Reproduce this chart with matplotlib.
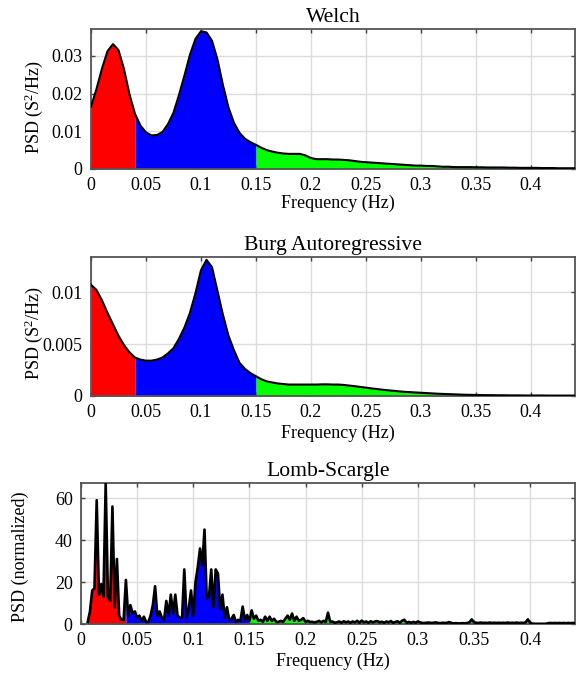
import numpy as np
import matplotlib
matplotlib.use("Agg")
import matplotlib.pyplot as plt
from matplotlib.ticker import FuncFormatter

# ---------- data ----------
# Welch and Burg spectra sampled every 0.005 Hz from 0 to 0.44 Hz
welch_psd = [
    0.0165, 0.0212, 0.0266, 0.0312, 0.0331, 0.0315, 0.0265, 0.0198, 0.0146, 0.0115,   # 0.000-0.045
    0.0097, 0.0089, 0.0090, 0.0098, 0.0119, 0.0149, 0.0196, 0.0248, 0.0303, 0.0345,   # 0.050-0.095
    0.0365, 0.0362, 0.0340, 0.0290, 0.0222, 0.0163, 0.0122, 0.0096, 0.0080, 0.0071,   # 0.100-0.145
    0.0064, 0.0056, 0.0050, 0.0046, 0.0043, 0.0041, 0.0040, 0.0040, 0.0040, 0.0036,   # 0.150-0.195
    0.0029, 0.0026, 0.0026, 0.0026, 0.0025, 0.0025, 0.0024, 0.0023, 0.0021, 0.0019,   # 0.200-0.245
    0.0018, 0.0017, 0.0016, 0.0015, 0.0014, 0.0013, 0.0012, 0.0011, 0.0010, 0.0009,   # 0.250-0.295
    0.0009, 0.0008, 0.0008, 0.0007, 0.0006, 0.0006, 0.0005, 0.0005, 0.0005, 0.0005,   # 0.300-0.345
    0.00045, 0.00045, 0.0004, 0.0004, 0.0004, 0.0004, 0.00035, 0.00035, 0.0003, 0.0003,  # 0.350-0.395
    0.0003, 0.0003, 0.00025, 0.00025, 0.00025, 0.0002, 0.0002, 0.0002, 0.0002,        # 0.400-0.440
]

burg_psd = [
    0.0107, 0.0102, 0.0092, 0.0080, 0.0069, 0.0058, 0.0049, 0.0042, 0.0037, 0.0035,   # 0.000-0.045
    0.0034, 0.0034, 0.0035, 0.0037, 0.0041, 0.0046, 0.0055, 0.0066, 0.0080, 0.0099,   # 0.050-0.095
    0.0121, 0.0131, 0.0124, 0.0101, 0.0078, 0.0058, 0.0044, 0.0032, 0.0026, 0.0022,   # 0.100-0.145
    0.0019, 0.0016, 0.0014, 0.0013, 0.0012, 0.00115, 0.0011, 0.0011, 0.0011, 0.0011,  # 0.150-0.195
    0.0011, 0.0011, 0.00112, 0.00112, 0.0011, 0.0011, 0.00106, 0.0010, 0.00094, 0.00087,  # 0.200-0.245
    0.0008, 0.00073, 0.00067, 0.0006, 0.00055, 0.0005, 0.00045, 0.0004, 0.00037, 0.00034,  # 0.250-0.295
    0.00031, 0.00028, 0.00025, 0.00022, 0.0002, 0.00018, 0.00016, 0.00014, 0.00012, 0.00011,  # 0.300-0.345
    0.0001, 0.00009, 0.00008, 0.00008, 0.00007, 0.00007, 0.00006, 0.00006, 0.00006, 0.00005,  # 0.350-0.395
    0.00005, 0.00005, 0.00005, 0.00004, 0.00004, 0.00004, 0.00004, 0.00004, 0.00004,  # 0.400-0.440
]

# Lomb-Scargle periodogram sampled every 0.002 Hz from 0.006 Hz
ls_psd = [
    1, 6, 16, 17, 59, 14, 19, 13, 67, 13,                   # 0.006-0.024
    11, 56, 8, 31, 4, 2, 2, 21, 4, 9,                       # 0.026-0.044
    5, 6, 3, 4, 1.5, 3.5, 1, 1, 4, 9,                       # 0.046-0.064
    18, 4, 6, 3, 2, 11, 4, 14, 5, 14,                       # 0.066-0.084
    4, 3, 3, 26, 3, 7.5, 16, 4, 20, 27,                     # 0.086-0.104
    36, 28, 45, 12, 13, 26, 8, 26, 24, 7,                   # 0.106-0.124
    14, 3, 8, 2, 2.5, 4.3, 1, 2, 1.5, 8.3,                  # 0.126-0.144
    2, 4.3, 1.5, 6.5, 2.5, 4, 1.5, 2, 1, 3.5,               # 0.146-0.164
    1.5, 3.5, 1.5, 2.5, 1, 1, 1.5, 1, 2.5, 4,               # 0.166-0.184
    2, 5, 1.5, 3.5, 1.5, 2, 2.8, 1, 1.5, 1,                 # 0.186-0.204
    1, 0.8, 1, 1.5, 0.8, 1.5, 1, 5.4, 1, 1.2,               # 0.206-0.224
    0.6, 0.8, 1.2, 0.6, 1.3, 0.8, 1.2, 0.6, 1.2, 0.8,       # 0.226-0.244
    1.5, 0.6, 1.6, 0.8, 1.2, 0.6, 1.3, 0.8, 1.2, 1.4,       # 0.246-0.264
    0.8, 1.1, 0.6, 1.2, 0.8, 1.4, 0.6, 1.0, 1.3, 0.6,       # 0.266-0.284
    1.6, 2.0, 0.6, 1.0, 0.6, 1.0, 0.6, 1.2, 0.8, 0.5,       # 0.286-0.304
    0.5, 0.6, 0.7, 0.5, 0.6, 0.8, 0.5, 0.4, 0.6, 0.5,       # 0.306-0.324
    0.6, 0.9, 0.5, 0.3, 0.4, 0.3, 0.3, 0.4, 0.3, 0.5,       # 0.326-0.344
    0.8, 2.2, 0.8, 0.6, 0.5, 0.7, 0.5, 0.6, 0.5, 0.7,       # 0.346-0.364
    0.5, 0.6, 0.5, 0.6, 0.5, 0.6, 0.5, 0.7, 0.5, 0.6,       # 0.366-0.384
    0.5, 0.7, 0.5, 0.6, 0.5, 0.8, 2.2, 0.6, 0.2, 0.1,       # 0.386-0.404
    0.1, 0.1, 0.1, 0.1, 0.1, 0.4, 0.5, 0.4, 0.5, 0.4,       # 0.406-0.424
    0.5, 0.4, 0.5, 0.4, 0.5, 0.4, 0.5, 0.4,                 # 0.426-0.440
]

welch_f = 0.005 * np.arange(len(welch_psd))
burg_f = 0.005 * np.arange(len(burg_psd))
ls_f = 0.006 + 0.002 * np.arange(len(ls_psd))

band_edges = [(0.0, 0.04), (0.04, 0.15), (0.15, 0.4)]
band_colors = ['#ff0000', '#0000ff', '#00ff00']
x_ticks = [0, 0.05, 0.1, 0.15, 0.2, 0.25, 0.3, 0.35, 0.4]

# ---------- style ----------
plt.rcParams['font.family'] = ['Liberation Serif', 'DejaVu Serif']
plt.rcParams['mathtext.fontset'] = 'custom'
plt.rcParams['mathtext.rm'] = 'Liberation Serif'
plt.rcParams['font.size'] = 13

fmt = FuncFormatter(lambda v, pos: '%g' % v)


def draw_panel(ax, f, p, title, ylabel, ymax, yticks, lw, xlab_y, ylab_x, ylab_y):
    f = np.asarray(f)
    p = np.asarray(p, dtype=float)
    for (lo, hi), col in zip(band_edges, band_colors):
        m = (f >= lo - 1e-9) & (f <= hi + 1e-9)
        ax.fill_between(f[m], 0, p[m], color=col, linewidth=0, zorder=2)
    ax.plot(f, p, color='black', lw=lw, zorder=3)
    ax.set_xlim(0, 0.44)
    ax.set_ylim(0, ymax)
    ax.set_xticks(x_ticks)
    ax.set_yticks(yticks)
    ax.xaxis.set_major_formatter(fmt)
    ax.yaxis.set_major_formatter(fmt)
    ax.grid(True, color='#dcdcdc', lw=1.0, zorder=0)
    ax.set_axisbelow(True)
    ax.tick_params(direction='in', top=True, right=True, length=3,
                   width=1.0, color='#444444', pad=6)
    for s in ax.spines.values():
        s.set_color('#555555')
        s.set_linewidth(1.3)
    ax.set_title(title, pad=5)
    ax.set_xlabel('Frequency (Hz)')
    ax.set_ylabel(ylabel)
    ax.xaxis.set_label_coords(0.51, xlab_y)
    ax.yaxis.set_label_coords(ylab_x, ylab_y)


fig = plt.figure(figsize=(5.81, 6.73), dpi=100)
ax1 = fig.add_axes([0.1566, 0.7489, 0.8330, 0.2080])
ax2 = fig.add_axes([0.1566, 0.4116, 0.8330, 0.2065])
ax3 = fig.add_axes([0.1394, 0.0728, 0.8503, 0.2095])

draw_panel(ax1, welch_f, welch_psd, 'Welch', r'PSD (S$\mathregular{^2}$/Hz)',
           0.0371, [0, 0.01, 0.02, 0.03], 1.5, -0.185, -0.095, 0.44)
draw_panel(ax2, burg_f, burg_psd, 'Burg Autoregressive', r'PSD (S$\mathregular{^2}$/Hz)',
           0.01337, [0, 0.005, 0.01], 1.5, -0.21, -0.095, 0.45)
draw_panel(ax3, ls_f, ls_psd, 'Lomb-Scargle', 'PSD (normalized)',
           67.2, [0, 20, 40, 60], 1.9, -0.2, -0.106, 0.48)

fig.savefig('out.png', dpi=100)
